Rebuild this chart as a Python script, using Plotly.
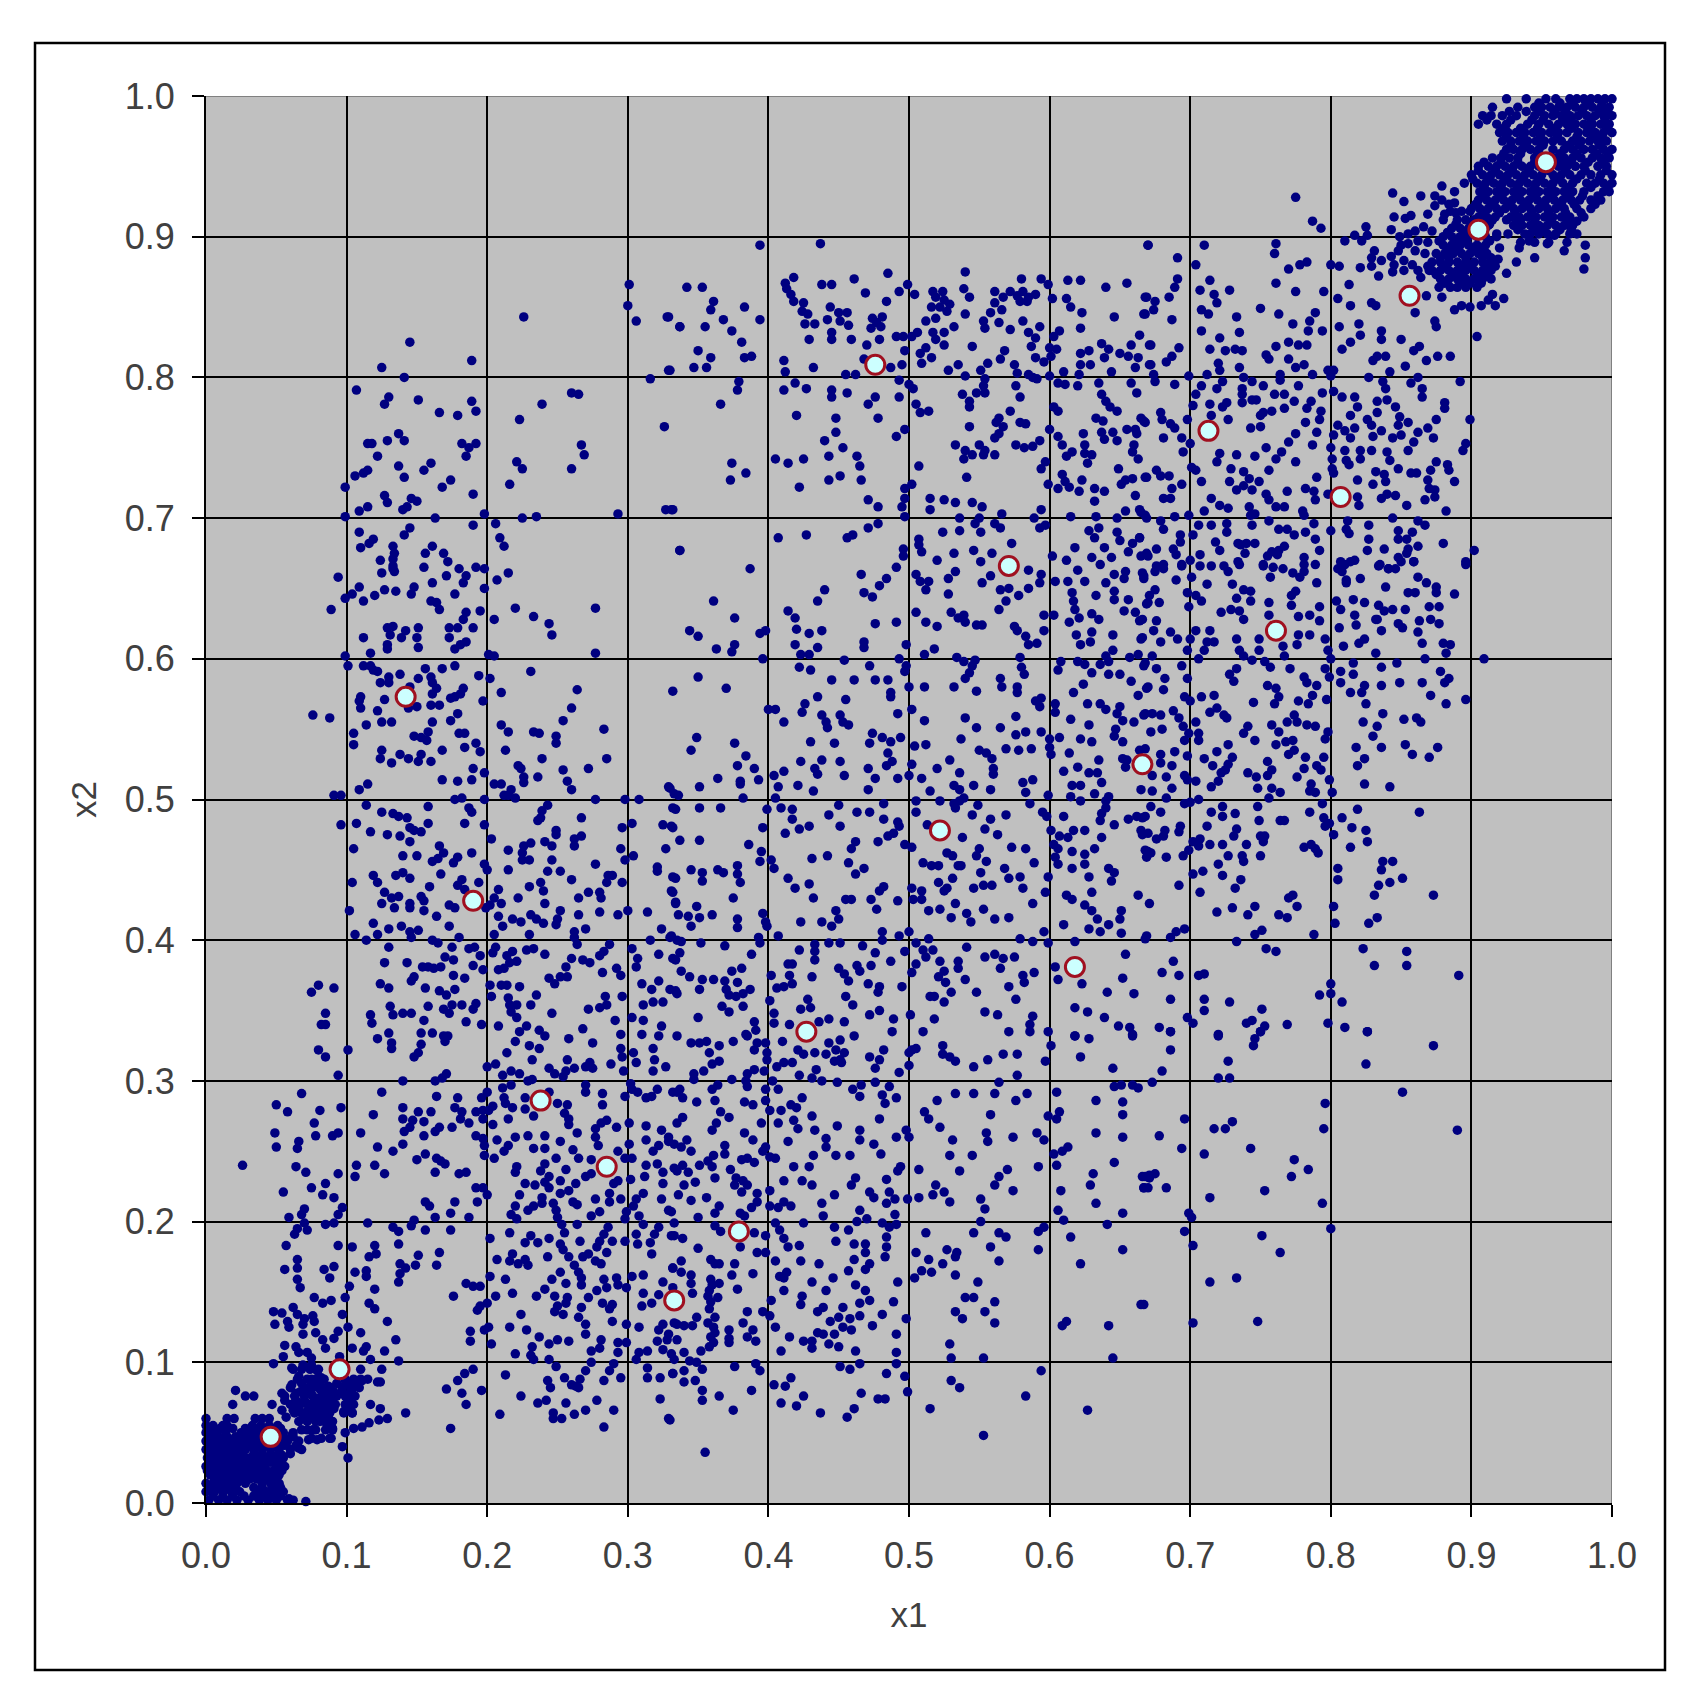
import plotly.graph_objects as go

upper_left = [(301,866),(300,851),(306,840),(329,843),(337,836),(226,843),(145,825),(189,812),(125,807),(141,800),(330,805),(316,799),(107,791),(130,786),(127,781),(151,784),(189,783),(192,776),(166,775),(179,773),(239,781),(260,789),(265,788),(223,770),(326,765),(137,760),(141,755),(129,755),(115,753),(118,753),(182,753),(192,753),(187,750),(185,744),(122,744),(267,752),(269,745),(221,740),(225,735),(260,735),(137,737),(160,739),(155,734),(115,734),(112,732),(106,730),(141,729),(174,727),(168,722),(216,724),(99,722),(190,717),(127,716),(129,711),(146,714),(150,712),(143,708),(140,706),(115,708),(109,705),(99,701),(163,700),(198,703),(225,700),(235,701),(293,703),(327,706),(332,706),(206,696),(190,695),(145,693),(141,688),(109,690),(119,685),(116,682),(110,679),(209,686),(212,680),(133,680),(134,675),(133,671),(161,680),(156,675),(169,675),(172,669),(124,670),(155,665),(133,664),(180,664),(192,665),(198,664),(215,661),(337,677)]

middle_left = [(94,658),(125,661),(133,666),(134,662),(171,659),(185,659),(183,654),(207,656),(109,651),(104,646),(99,643),(127,649),(135,648),(148,651),(146,646),(161,654),(120,645),(112,641),(177,646),(198,650),(160,641),(164,640),(166,635),(89,635),(220,636),(277,636),(195,634),(185,633),(183,628),(205,628),(233,630),(244,625),(246,617),(190,622),(173,622),(179,622),(173,615),(151,622),(150,615),(151,608),(129,622),(133,623),(131,617),(139,615),(142,620),(112,615),(129,610),(129,607),(185,612),(181,610),(177,607),(117,604),(99,602),(101,595),(201,603),(205,602),(277,604),(112,595),(117,595),(119,592),(122,591),(138,589),(130,587),(124,583),(130,583),(156,593),(168,593),(177,595),(151,586),(160,587),(194,588),(202,586),(231,591),(161,583),(164,579),(161,575),(145,580),(183,579),(181,575),(174,572),(177,573),(210,576),(264,578),(110,573),(109,570),(127,571),(110,565),(150,566),(144,565),(160,567),(166,567),(197,570),(122,563),(179,561),(174,556),(260,565),(76,560),(88,558),(254,556),(125,555),(132,555),(114,553),(161,555),(210,553),(215,548),(283,550),(233,548),(237,547),(249,545),(249,540),(105,547),(105,539),(148,545),(153,544),(157,542),(158,548),(184,547),(180,547),(192,540),(184,537),(195,534),(213,535),(168,535),(125,535),(124,529),(132,526),(138,532),(144,529),(153,532),(151,527),(160,527),(239,529),(285,529),(272,522),(254,521),(222,524),(224,522),(190,522),(198,519),(168,514),(179,513),(189,514),(226,516),(226,512),(236,516),(205,511),(210,511),(257,513),(260,507),(115,511),(109,507),(330,508),(91,503),(96,503),(217,507),(212,503),(215,503),(220,501),(177,500),(182,501),(198,500),(277,500),(298,500),(308,500),(336,503),(243,496),(239,492),(238,487),(236,485),(114,496),(158,495),(187,494),(189,491),(334,493),(125,491),(133,490),(137,488),(143,487),(267,487),(107,483),(96,482),(158,483),(184,483),(198,482),(145,480),(148,478),(153,477),(303,483),(296,480),(325,482),(332,480),(117,477),(129,475),(138,474),(145,470),(203,472),(249,478),(249,475),(267,474),(262,472),(262,467),(241,470),(246,467),(231,469),(226,467),(225,462),(230,457),(225,457),(105,465),(215,464),(166,467),(169,462),(295,465),(327,465),(140,460),(150,460),(189,462),(179,459),(176,455),(161,456),(165,458),(304,460),(298,457),(246,457),(198,454),(200,450),(215,450),(277,454),(321,452),(321,449),(243,449),(252,449),(167,447),(119,446),(122,441),(135,446),(140,448),(145,444),(286,446),(289,446),(285,441),(334,444),(260,443),(182,443),(179,439),(184,436),(194,441),(104,441),(238,441),(230,438),(240,435),(296,441),(159,438),(208,436),(127,434),(132,430),(137,431),(125,426),(153,431),(155,428),(222,430),(272,434),(280,434),(265,430),(281,430),(332,434),(145,426),(145,423),(205,430),(202,425),(210,426),(199,423),(173,425),(177,423),(241,426),(334,426),(102,421),(134,423),(155,421),(252,421),(300,421),(314,420),(265,418),(280,420),(293,418),(231,418),(235,415),(240,412),(164,417),(208,417),(218,415),(224,413),(250,415),(249,411),(119,412),(173,410),(211,410),(139,410),(130,408),(145,406),(151,407),(270,408),(324,408),(106,404),(122,404),(114,400),(146,402),(262,406),(262,402),(264,397),(205,404),(230,404),(161,400),(165,398),(180,402),(316,400),(330,402),(335,400),(287,397),(130,395),(175,395),(187,394),(191,395),(206,395),(204,391),(303,394),(322,390),(241,390),(233,394),(228,393),(218,392),(214,389),(280,389),(283,392),(170,388),(176,386),(195,389),(260,387),(256,381),(307,387),(306,381),(334,386),(127,384),(143,384),(221,385),(216,384),(212,380),(208,379),(268,386),(273,384),(154,381),(158,381),(162,380),(167,381),(190,382),(197,379),(292,380),(295,375),(282,377),(176,375),(184,373),(148,374),(146,371),(244,373),(248,369),(252,374),(257,374),(124,369),(130,366),(156,366),(210,368),(214,368),(223,367),(310,369),(322,371),(202,368),(203,360),(80,368),(75,363),(91,366),(166,364),(171,361),(177,365),(235,361),(296,360),(334,364),(317,365),(215,359),(216,354),(217,349),(221,345),(284,360),(285,354),(280,352),(221,354),(231,354),(311,354),(318,356),(325,356),(131,353),(158,353),(175,354),(182,354),(192,355),(190,351),(169,351),(173,348),(272,351),(133,347),(140,348),(146,348),(85,348),(85,340),(82,340),(117,347),(118,341),(246,348),(303,345),(155,343),(291,343),(311,343),(185,342),(196,340),(208,339),(228,339),(223,335),(268,337),(324,339),(237,336),(241,332),(295,333),(310,333),(322,332),(130,334),(122,330),(153,334),(161,334),(169,332),(172,332)]

lower_left = [(80,322),(85,317),(101,322),(132,327),(132,323),(153,326),(151,320),(148,317),(170,328),(237,323),(220,328),(230,325),(214,320),(232,315),(258,330),(275,327),(295,323),(304,320),(296,317),(306,313),(318,323),(319,315),(318,307),(327,310),(257,315),(256,307),(262,309),(244,309),(248,305),(254,303),(273,313),(270,310),(275,309),(288,312),(297,307),(206,312),(200,310),(217,307),(223,305),(211,304),(94,304),(171,305),(168,302),(163,300),(140,300),(232,301),(229,300),(217,297),(211,295),(200,292),(270,297),(270,292),(302,298),(298,289),(303,294),(307,292),(313,288),(317,289),(321,294),(335,292),(125,292),(244,292),(282,291),(282,283),(68,291),(164,289),(179,288),(196,288),(212,288),(213,284),(204,282),(218,281),(201,279),(227,288),(227,280),(233,275),(250,284),(257,283),(255,277),(258,273),(258,269),(264,263),(177,281),(182,278),(192,278),(197,279),(181,273),(187,270),(50,283),(58,278),(81,279),(96,281),(140,281),(140,273),(151,278),(160,278),(119,276),(147,272),(155,271),(197,273),(204,269),(215,273),(77,270),(49,263),(78,261),(90,261),(94,263),(110,263),(145,267),(141,264),(155,261),(166,267),(163,264),(175,267),(277,266),(277,260),(281,270),(285,272),(292,267),(301,270),(313,268),(324,265),(329,260),(333,255),(192,261),(197,259),(229,261),(241,261),(220,260),(215,254),(207,258),(252,257),(279,254),(301,255),(313,258),(66,257),(65,252),(50,253),(122,253),(140,255),(133,250),(198,254),(198,247),(205,245),(212,250),(233,252),(241,252),(261,251),(265,245),(318,250),(322,254),(156,248),(249,245),(241,241),(238,236),(293,250),(298,245),(303,245),(274,244),(26,240),(150,244),(164,245),(167,243),(170,241),(107,240),(120,240),(64,239),(71,235),(221,239),(220,235),(256,237),(313,240),(325,235),(335,236),(321,241),(94,234),(106,232),(127,234),(163,235),(185,235),(180,234),(270,232),(274,234),(302,230),(312,232),(244,232),(241,228),(252,229),(290,227),(293,229),(85,227),(75,224),(83,219),(91,217),(227,227),(234,226),(244,224),(263,227),(258,222),(252,220),(325,227),(192,224),(197,224),(200,219),(55,221),(223,219),(239,217),(311,220),(306,216),(287,220),(287,214),(295,216),(277,216),(324,216),(193,214),(156,214),(159,211),(177,214),(261,214),(264,212),(220,211),(233,211),(239,213),(229,208),(247,213),(249,208),(250,203),(253,198),(70,209),(68,205),(97,210),(94,205),(280,207),(274,204),(331,207),(304,211),(299,207),(298,202),(308,204),(311,198),(174,206),(217,205),(221,202),(59,203),(163,203),(187,203),(148,201),(146,197),(115,199),(91,199),(85,198),(70,199),(65,195),(72,194),(63,191),(133,196),(137,193),(156,194),(174,194),(255,192),(264,198),(286,196),(283,191),(280,186),(289,186),(278,182),(298,186),(306,191),(307,184),(319,191),(322,196),(316,185),(317,177),(333,190),(216,192),(231,190),(227,185),(236,185),(244,188),(202,188),(266,186),(252,184),(254,180),(57,183),(94,183),(104,182),(120,183),(137,184),(121,177),(116,175),(166,178),(151,176),(272,177),(268,175),(277,172),(285,178),(281,170),(218,177),(207,173),(216,172),(227,173),(222,170),(229,169),(243,175),(258,175),(65,173),(56,166),(65,167),(138,170),(149,169),(142,167),(164,169),(84,166),(91,168),(88,160),(114,165),(114,161),(106,164),(262,169),(265,164),(267,160),(267,155),(332,167),(138,163),(137,157),(202,161),(213,159),(252,164),(246,159),(256,156),(283,159),(292,160),(303,161),(311,162),(293,155),(299,153),(285,153),(325,157),(332,153),(65,159),(67,153),(185,156),(190,154),(195,154),(102,154),(120,152),(241,152),(235,147),(248,147),(278,151),(272,146),(218,149),(311,149),(322,148),(176,147),(206,147),(200,142),(195,140),(193,137),(77,146),(83,142),(89,144),(99,146),(257,146),(256,142),(250,140),(248,136),(254,134),(282,142),(289,141),(287,138),(317,142),(310,140),(116,142),(120,138),(267,139),(265,132),(270,127),(270,120),(97,134),(48,136),(54,135),(62,139),(65,134),(70,131),(76,133),(58,129),(69,127),(77,129),(224,134),(129,129),(49,127),(59,125),(101,125),(94,122),(91,117),(198,123),(201,125),(188,122),(188,115),(203,113),(216,125),(228,123),(289,129),(299,127),(308,125),(325,127),(322,123),(335,127),(329,120),(110,121),(69,120),(78,121),(83,116),(85,110),(237,118),(250,116),(244,113),(258,115),(232,111),(135,116),(281,116),(280,110),(274,108),(293,114),(299,114),(321,115),(325,109),(56,112),(55,104),(64,111),(66,107),(72,107),(75,103),(114,111),(112,108),(104,110),(127,108),(220,106),(231,105),(233,102),(244,102),(249,97),(293,107),(290,99),(287,94),(283,87),(295,89),(308,107),(306,102),(314,108),(95,104),(117,102),(137,101),(48,99),(274,100),(270,94),(266,88),(263,83),(260,84),(255,89),(61,96),(69,98),(75,98),(79,94),(66,90),(75,88),(82,89),(110,95),(125,95),(190,95),(184,92),(179,87),(213,91),(314,96),(314,89),(323,89),(332,92),(122,86),(124,86),(99,87),(105,85),(111,87),(97,82),(104,81),(108,83),(99,76),(105,76),(243,87),(245,82),(265,82),(61,84),(21,80),(28,76),(34,76),(19,70),(54,78),(64,78),(71,81),(81,81),(87,83),(75,77),(83,77),(90,79),(56,73),(64,72),(71,71),(80,69),(88,70),(85,65),(78,64),(62,66),(54,66),(68,64),(57,61),(171,81),(182,78),(196,80),(185,70),(224,76),(236,71),(242,73),(256,71),(270,66),(278,73),(290,66),(323,74),(47,70),(117,70),(124,67),(142,64),(209,63),(247,64),(247,60),(253,60),(262,63),(330,59),(283,54),(174,53),(98,65),(104,64),(129,60),(123,59),(116,57),(111,54),(105,53),(99,50),(87,57),(90,53),(81,58),(76,52),(73,45),(79,45),(89,46),(68,52),(61,48),(66,39),(60,35),(54,34),(97,40),(101,32),(59,3),(71,1)]

upper_mid = [(394,894),(437,895),(540,875),(485,874),(461,870),(418,871),(412,867),(580,870),(594,870),(599,866),(613,869),(622,869),(655,867),(640,864),(670,894),(342,864),(353,864),(438,866),(445,866),(539,863),(499,866),(493,861),(504,859),(469,860),(413,863),(416,859),(418,854),(517,861),(524,861),(519,857),(525,855),(529,852),(522,850),(516,850),(519,842),(527,847),(543,857),(561,861),(567,857),(572,861),(577,858),(581,861),(585,857),(590,859),(579,854),(584,854),(561,853),(566,848),(558,846),(602,856),(612,856),(615,850),(623,846),(669,857),(668,845),(361,854),(359,848),(383,850),(328,843),(368,841),(394,841),(337,836),(355,836),(484,854),(425,853),(424,847),(428,845),(444,850),(450,846),(456,846),(442,841),(451,840),(457,837),(540,845),(646,843),(474,842),(481,843),(477,839),(473,835),(480,836),(426,838),(433,838),(512,840),(553,840),(554,835),(564,839),(581,840),(572,834),(593,836),(622,835),(532,836),(525,832),(585,832),(445,832),(445,827),(429,827),(459,827),(479,827),(470,823),(374,833),(381,825),(491,829),(496,829),(502,829),(506,832),(603,829),(607,833),(664,830),(517,832),(519,827),(525,823),(512,821),(497,819),(590,828),(587,822),(600,821),(605,820),(545,822),(658,823),(672,823),(637,824),(642,820),(350,819),(359,814),(383,814),(388,815),(411,812),(508,817),(516,814),(509,810),(568,819),(565,813),(590,814),(601,815),(622,817),(628,819),(650,817),(656,815),(663,814),(639,814),(329,805),(347,807),(356,807),(432,807),(412,804),(468,813),(487,807),(495,809),(535,809),(528,805),(556,810),(551,805),(575,809),(577,803),(596,811),(622,809),(629,809),(661,807),(672,809),(610,804),(455,802),(462,802),(540,801),(554,799),(588,800),(585,802),(591,799),(600,801),(621,802),(644,804),(379,797),(493,798),(419,796),(427,792),(411,791),(378,791),(445,791),(445,786),(456,789),(500,795),(503,792),(553,794),(554,789),(548,789),(576,794),(606,796),(611,795),(620,794),(635,796),(658,796),(662,789),(538,788),(579,786),(543,783),(543,779),(476,786),(493,786),(471,781),(366,781),(637,788),(640,783),(643,779),(648,776),(505,781),(508,775),(514,776),(603,779),(606,776),(420,773),(448,771),(478,771),(572,776),(564,771),(562,768),(579,768),(583,767),(633,771),(638,769),(665,771),(668,768),(543,765),(567,765),(564,760),(561,757),(600,763),(606,758),(624,760),(637,761),(645,761),(655,763),(661,763),(662,760),(639,756),(648,755),(448,761),(497,763),(491,758),(440,755),(453,750),(533,752),(576,752),(593,755),(550,752),(582,750),(588,751),(540,748),(554,748),(553,745),(561,745),(545,745),(609,752),(625,752),(660,752),(659,747),(625,746),(630,745),(616,747),(612,744),(463,744),(443,744),(465,737),(405,742),(425,742),(414,739),(374,739),(539,742),(597,740),(594,735),(627,739),(663,742),(507,737),(384,732),(373,727),(451,730),(443,727),(466,727),(422,722),(541,729),(609,731),(649,735),(654,727),(659,728),(651,724),(669,729),(623,727),(611,726),(599,724),(606,721),(614,722),(621,719),(632,721),(639,719),(502,724),(497,721),(497,714),(495,708),(497,701),(661,716),(515,714),(525,713),(533,711),(545,711),(552,708),(471,713),(478,708),(515,706),(594,706),(632,712),(331,706),(566,703),(615,701),(633,701),(648,700),(654,705),(664,706),(668,702),(536,700),(550,700),(589,700),(471,693),(478,696),(547,696),(551,690),(561,696),(565,693),(593,693),(597,695),(536,691),(524,690),(628,691),(635,693),(632,686),(407,686),(427,688),(460,688),(456,686),(648,690),(650,684),(664,686),(659,682),(656,676),(507,685),(507,681),(509,676),(496,678),(496,673),(337,677),(573,682),(618,679),(639,679),(532,675),(546,677),(559,675),(602,673),(612,670),(630,672),(644,672),(665,673),(670,673),(520,670),(551,669),(491,665),(387,664),(636,667),(620,663)]

center = [(466,660),(484,657),(479,652),(440,649),(468,647),(474,644),(435,641),(505,660),(508,655),(514,655),(512,649),(533,662),(528,657),(558,659),(552,654),(528,646),(594,660),(593,654),(585,663),(585,650),(604,655),(613,655),(625,655),(640,654),(646,660),(654,662),(653,657),(666,661),(667,657),(565,649),(571,650),(578,645),(569,641),(564,635),(616,647),(633,645),(646,648),(646,642),(656,642),(670,640),(617,641),(618,635),(621,629),(361,641),(376,629),(414,634),(419,629),(530,633),(505,633),(512,626),(535,629),(539,631),(540,626),(548,624),(552,624),(520,623),(653,634),(661,633),(666,628),(630,632),(635,628),(596,631),(603,631),(614,626),(619,617),(622,610),(476,625),(491,626),(575,623),(577,620),(344,620),(350,616),(394,618),(398,620),(420,621),(429,618),(438,620),(596,620),(630,619),(645,617),(666,615),(629,612),(583,616),(585,610),(591,611),(468,612),(468,608),(498,610),(419,610),(435,608),(376,610),(363,607),(374,605),(518,607),(511,603),(429,603),(423,603),(396,600),(645,606),(663,603),(640,602),(657,601),(534,601),(539,598),(547,599),(545,595),(543,590),(540,586),(454,599),(493,600),(498,595),(497,591),(579,601),(580,594),(582,589),(620,598),(625,596),(636,596),(642,598),(668,597),(608,598),(606,592),(422,594),(430,592),(472,595),(350,587),(445,585),(461,585),(476,585),(485,585),(630,590),(642,589),(650,589),(658,584),(565,586),(566,580),(577,580),(577,576),(500,580),(511,580),(532,580),(548,577),(370,579),(332,577),(624,582),(617,576),(670,580),(487,576),(487,573),(435,573),(455,571),(663,574),(590,570),(594,572),(593,566),(604,568),(604,562),(426,568),(424,562),(400,564),(405,564),(627,568),(636,568),(640,564),(650,566),(648,561),(668,561),(502,564),(492,561),(438,560),(451,560),(576,559),(540,558),(453,555),(457,553),(615,557),(652,556),(660,555),(511,556),(441,555),(442,551),(411,555),(548,551),(565,551),(628,553),(647,550),(646,545),(576,546),(583,548),(594,548),(600,543),(607,544),(600,537),(474,547),(481,544),(494,544),(487,541),(430,541),(447,540),(472,540),(349,544),(376,540),(345,535),(384,531),(504,538),(512,539),(537,543),(622,543),(630,541),(652,541),(569,536),(578,535),(587,536),(614,533),(550,535),(555,533),(559,529),(560,522),(560,518),(485,533),(668,536),(529,528),(438,528),(423,527),(451,527),(635,528),(652,529),(655,528),(654,523),(601,532),(488,527),(484,524),(502,525),(378,524),(390,522),(520,522),(471,522),(433,522),(620,523),(610,520),(435,518),(411,520),(628,519),(634,519),(476,515),(454,517),(492,515),(500,517),(509,515),(536,519),(404,517),(364,515),(393,514),(380,513),(380,511),(532,510),(546,510),(588,514),(581,512),(421,510),(351,509),(407,509),(637,512),(616,510),(622,510),(583,505),(558,507),(536,507),(471,507),(432,506),(515,506),(665,507),(329,509),(333,504),(382,501),(405,501),(539,501),(599,503),(615,502),(632,504),(642,502),(505,499),(522,499),(536,499),(532,497),(533,494),(622,499),(640,499),(332,494),(351,494),(366,494),(399,493),(409,494),(417,493),(450,496),(482,497),(549,496),(586,497),(640,494),(637,490),(636,485),(505,491),(545,489),(595,491),(598,488),(569,489),(443,489),(463,491),(472,491),(417,486),(482,486),(610,488),(558,486),(656,486),(662,488),(668,488),(492,484),(493,481),(646,482),(554,479),(513,482),(331,481),(396,480),(422,479),(429,481),(451,481),(412,476),(489,476),(485,474),(601,478),(617,478),(625,478),(665,478),(670,476),(563,475),(337,471),(351,471),(478,470),(538,473),(637,473),(462,470),(459,465),(607,474),(613,473),(603,468),(606,465),(604,459),(386,468),(497,468),(502,466),(573,466),(583,465),(550,465),(548,460),(395,463),(394,456),(402,457),(404,451),(616,463),(632,465),(670,463),(625,461),(625,454),(442,460),(431,458),(527,462),(531,460),(555,456),(589,455),(568,451),(510,455),(516,453),(521,453),(535,453),(537,453),(457,455),(468,451),(462,447),(606,454),(616,451),(345,450),(353,448),(353,442),(364,450),(368,448),(378,453),(378,447),(380,441),(642,451),(646,448),(644,442),(551,448),(628,445),(332,445),(414,444),(429,440),(419,437),(599,445),(571,444),(579,445),(531,444),(521,441),(527,437),(525,435),(546,437),(553,439),(559,439),(581,437),(482,438),(479,435),(331,435),(502,437),(509,435),(630,434),(597,434),(663,432),(375,430),(432,430),(334,427),(455,429),(459,429),(473,429),(492,428),(503,429),(509,429),(612,432),(616,429),(588,426),(533,426),(522,422),(514,421),(553,422),(349,424),(477,422),(625,425),(630,421),(336,418),(343,417),(351,416),(360,418),(345,410),(378,415),(378,409),(396,419),(398,413),(399,410),(448,421),(450,415),(438,413),(445,410),(423,413),(541,419),(544,413),(530,416),(561,415),(571,416),(651,421),(650,415),(634,415),(642,411),(610,411),(331,403),(338,399),(352,398),(369,396),(393,402),(394,398),(407,403),(481,406),(481,400),(500,406),(493,403),(514,401),(596,406),(628,408),(636,406),(651,405),(669,403),(579,401),(588,399),(599,398),(618,399),(443,398),(451,398),(433,397),(422,393),(433,392),(433,386),(467,396),(476,391),(505,398),(510,393),(517,393),(541,395),(497,392),(512,388),(554,388),(561,390),(567,387),(575,388),(654,390),(337,391),(332,387),(388,390),(522,385),(535,385),(535,380),(473,382),(487,385),(505,383),(450,380),(463,382),(465,378),(454,376),(414,383),(417,383),(565,380),(604,381),(525,378),(589,377),(338,378),(374,378),(381,380),(502,377),(457,371),(344,374),(353,372),(361,372),(369,371),(378,370),(402,375),(415,375),(431,374),(521,374),(526,370),(540,372),(581,375),(606,372),(652,373),(582,370),(417,369),(411,367),(406,366),(471,369),(479,367),(495,367),(571,367),(623,369),(370,365),(387,365),(382,362),(377,360),(372,361),(351,365),(330,365),(335,362),(530,363),(548,363),(660,362),(641,363),(478,363),(455,360),(515,360),(518,360),(401,357),(428,358),(576,358),(460,354),(525,356),(382,353),(367,353),(423,351),(430,352),(618,352),(372,349),(479,350),(554,349),(563,347),(627,349),(350,345),(404,348),(472,347),(501,347),(588,346),(639,345),(390,342),(518,344),(454,342),(404,341),(489,344),(443,344),(586,340),(649,339),(657,338),(415,340),(436,342),(391,336),(385,332),(488,335),(571,335),(586,335),(599,335),(510,335),(618,332),(659,332)]

lower_mid = [(335,332),(345,327),(351,327),(356,328),(365,325),(375,328),(358,320),(392,327),(398,327),(390,322),(399,320),(399,315),(384,333),(410,328),(421,322),(425,319),(433,320),(441,319),(443,327),(451,329),(461,332),(448,322),(454,320),(451,315),(447,314),(452,313),(472,317),(482,322),(479,315),(476,309),(502,322),(500,320),(505,323),(500,311),(493,306),(524,325),(524,319),(529,317),(533,314),(546,310),(556,315),(567,319),(577,319),(601,325),(597,314),(622,317),(618,332),(628,330),(659,333),(411,313),(417,313),(406,310),(365,314),(360,312),(354,307),(347,305),(347,301),(385,305),(390,308),(397,307),(384,300),(374,301),(422,304),(434,308),(431,302),(438,300),(449,299),(476,299),(466,297),(460,294),(577,304),(564,299),(645,309),(337,294),(332,292),(339,288),(360,294),(364,297),(385,296),(398,294),(403,300),(407,294),(486,296),(481,290),(483,284),(491,288),(465,289),(533,291),(546,291),(561,291),(584,291),(605,292),(646,296),(651,297),(659,297),(663,295),(349,285),(362,286),(383,285),(389,283),(398,286),(520,286),(576,286),(633,286),(652,285),(424,288),(420,281),(416,283),(366,278),(339,274),(335,270),(372,274),(401,279),(409,279),(511,278),(514,273),(558,276),(607,278),(605,273),(599,275),(652,276),(395,270),(407,270),(418,272),(421,266),(431,275),(479,273),(449,268),(363,270),(360,265),(522,267),(465,265),(433,265),(498,265),(500,260),(491,260),(633,263),(383,263),(389,258),(555,263),(591,263),(596,258),(465,258),(574,260),(652,260),(342,258),(338,253),(329,257),(531,258),(556,257),(414,257),(475,255),(441,259),(441,253),(369,254),(369,248),(345,250),(398,253),(396,250),(613,253),(609,250),(480,248),(603,248),(529,247),(545,247),(432,247),(448,247),(458,247),(401,246),(405,245),(361,247),(385,245),(390,242),(381,244),(357,243),(351,240),(339,240),(360,239),(333,238),(343,235),(418,239),(429,239),(592,239),(605,240),(646,242),(507,237),(570,237),(494,239),(492,236),(373,237),(536,236),(631,234),(484,230),(411,229),(424,229),(431,226),(362,231),(462,231),(459,226),(377,231),(382,229),(385,226),(376,226),(381,221),(348,228),(340,226),(336,219),(345,215),(356,217),(519,226),(564,232),(561,226),(629,226),(666,232),(667,224),(671,231),(670,224),(392,220),(401,222),(392,214),(388,210),(383,204),(472,221),(475,217),(486,221),(490,216),(484,213),(447,219),(499,216),(507,217),(517,219),(525,221),(529,214),(574,222),(608,222),(438,213),(551,216),(633,213),(365,211),(401,211),(411,214),(416,211),(407,210),(329,208),(362,206),(380,206),(350,203),(439,204),(465,208),(470,202),(463,200),(490,205),(554,209),(551,200),(606,208),(610,201),(652,206),(333,199),(362,197),(366,193),(405,199),(408,194),(411,188),(414,182),(425,199),(447,196),(457,194),(481,199),(486,196),(491,198),(641,198),(596,196),(592,193),(331,190),(339,188),(398,190),(390,192),(512,192),(546,192),(564,192),(569,189),(615,189),(448,186),(461,184),(469,184),(484,189),(422,183),(380,182),(484,182),(350,181),(527,180),(534,178),(558,182),(592,180),(652,180),(392,178),(398,178),(469,178),(483,175),(505,178),(533,175),(338,172),(359,173),(362,170),(405,172),(423,172),(436,170),(461,173),(514,173),(524,170),(564,172),(622,170),(365,170),(376,170),(472,170),(469,166),(457,165),(332,167),(338,164),(389,163),(509,165),(516,164),(504,160),(345,162),(345,156),(359,159),(374,162),(408,161),(413,164),(411,160),(533,162),(360,155),(365,156),(358,151),(357,147),(378,152),(346,149),(431,157),(446,160),(462,155),(492,157),(549,157),(441,151),(411,151),(469,151),(364,146),(359,143),(424,147),(423,141),(402,144),(540,146),(546,146),(465,142),(472,144),(489,143),(561,143),(358,138),(385,136),(396,136),(401,133),(665,141),(435,136),(439,139),(453,139),(481,134),(533,136),(554,136),(349,132),(362,132),(346,126),(333,128),(340,126),(382,128),(357,128),(361,125),(498,131),(538,131),(444,129),(450,132),(458,131),(465,133),(474,126),(561,128),(612,129),(609,126),(642,126),(405,125),(389,123),(372,123),(362,121),(453,125),(459,123),(491,120),(435,121),(439,120),(447,120),(359,118),(372,117),(385,118),(415,118),(328,116),(335,116),(425,115),(431,115),(391,115),(361,114),(372,114),(443,113),(450,111),(358,111),(352,108),(529,113),(431,110),(409,108),(462,108),(491,107),(331,106),(340,107),(333,102),(344,101),(349,100),(530,103),(553,103),(645,103),(376,97),(391,99),(451,97),(458,95),(465,99),(491,99),(394,94),(353,95),(340,94),(332,92),(594,94),(484,92),(497,90),(348,87),(340,86),(416,89),(530,87),(404,84),(412,83),(536,82),(353,80),(388,80),(499,79),(466,78),(425,76),(365,76),(478,74),(483,74),(583,76),(353,73),(409,71),(420,69),(375,66),(461,67),(515,67),(437,64),(456,61),(627,66),(329,60),(553,48),(355,36)]

lower_right = [(686,335),(720,333),(750,335),(746,330),(745,325),(826,335),(873,325),(686,322),(727,314),(680,307),(825,312),(720,302),(728,302),(673,299),(851,292),(796,284),(696,273),(730,271),(717,266),(725,266),(795,266),(890,265),(678,261),(694,252),(743,252),(710,248),(774,244),(784,237),(772,232),(668,232),(671,233),(675,234),(667,224),(683,224),(714,217),(753,222),(794,213),(699,206),(701,203),(696,193),(800,195),(751,190),(702,183),(764,178),(733,160),(714,157),(667,141),(702,128),(748,129)]

middle_right = [(694,667),(707,666),(715,666),(724,666),(727,662),(734,669),(752,667),(759,665),(766,664),(773,661),(781,662),(778,658),(757,658),(810,667),(808,662),(817,670),(811,656),(821,657),(811,654),(835,667),(841,664),(846,664),(850,669),(859,669),(896,669),(667,659),(675,662),(681,664),(690,656),(701,658),(712,653),(790,654),(839,651),(862,658),(730,653),(738,649),(743,648),(775,648),(772,645),(860,647),(855,647),(868,654),(875,651),(875,647),(888,646),(675,649),(671,645),(669,639),(678,640),(698,647),(704,645),(708,641),(699,637),(733,643),(743,641),(756,640),(816,642),(804,641),(722,633),(729,635),(735,634),(738,628),(756,631),(772,638),(792,637),(785,631),(777,630),(807,635),(817,631),(824,640),(834,638),(844,635),(838,634),(853,635),(870,637),(877,637),(676,627),(664,627),(792,627),(833,628),(832,628),(863,627),(871,628),(877,625),(848,625),(818,624),(806,622),(851,622),(836,620),(862,619),(674,620),(686,619),(704,620),(714,620),(777,617),(785,617),(733,614),(749,614),(796,614),(691,614),(700,614),(665,614),(679,612),(717,612),(712,612),(824,614),(820,611),(865,611),(880,611),(885,610),(766,609),(776,610),(809,609),(735,606),(749,606),(798,606),(710,606),(698,606),(832,604),(882,604),(673,602),(706,600),(738,602),(744,599),(753,598),(757,594),(767,602),(800,600),(867,600),(909,600),(816,597),(847,597),(667,595),(676,593),(694,595),(836,594),(733,593),(771,593),(796,593),(728,589),(807,591),(816,589),(878,591),(799,587),(781,587),(731,584),(698,586),(682,586),(884,586),(783,583),(881,583),(807,583),(849,583),(865,583),(836,581),(824,581),(790,581),(755,581),(761,579),(669,579),(681,578),(717,574),(708,573),(696,573),(763,573),(787,574),(822,576),(814,576),(871,574),(700,570),(745,569),(760,568),(777,570),(784,568),(797,571),(825,568),(882,568),(896,571),(688,563),(719,565),(714,562),(724,560),(726,558),(667,560),(673,561),(679,560),(692,558),(837,561),(774,560),(769,555),(776,555),(783,553),(789,552),(823,555),(861,558),(852,557),(864,555),(704,555),(695,552),(758,553),(741,552),(833,552),(680,550),(672,548),(763,548),(738,547),(699,547),(706,547),(798,548),(830,545),(746,542),(706,542),(696,542),(796,543),(768,541),(773,542),(727,539),(761,539),(818,537),(836,537),(853,539),(876,537),(664,535),(689,534),(719,534),(679,532),(774,535),(770,532),(698,531),(710,529),(730,530),(782,530),(795,530),(858,532),(870,530),(755,527),(824,529),(716,524),(727,525),(687,524),(679,526),(790,524),(819,524),(758,521),(781,522),(725,521),(722,519),(673,517),(696,517),(741,519),(747,516),(755,517),(793,521),(683,516),(704,513),(698,514),(776,516),(720,513),(799,514),(715,509),(824,511),(842,509),(786,511),(748,508),(758,508),(687,508),(673,506),(764,505),(785,506),(789,505),(801,505),(683,501),(756,501),(706,500),(696,497),(700,498),(672,495),(679,491),(715,491),(723,495),(723,488),(732,490),(748,495),(785,491),(794,497),(819,493),(863,491),(666,487),(749,485),(764,485),(767,485),(795,487),(799,483),(808,487),(796,481),(712,481),(815,480),(825,478),(733,479),(731,474),(693,481),(692,477),(682,478),(666,475),(750,474),(753,474),(802,475),(676,472),(681,474),(752,470),(702,470),(707,472),(706,467),(714,468),(723,468),(740,468),(826,470),(786,468),(781,466),(789,465),(791,462),(814,466),(668,464),(672,462),(669,459),(683,459),(695,460),(699,464),(727,460),(737,460),(750,460),(738,456),(837,456),(844,456),(720,454),(805,451),(836,450),(702,447),(709,449),(723,446),(805,443),(736,443),(851,444),(842,441),(834,439),(732,437),(692,439),(707,434),(831,432),(873,432),(773,432),(770,430),(671,426),(776,424),(802,424),(746,424),(730,423),(719,420),(741,418),(763,418),(769,416),(833,416),(827,412),(803,412),(751,407),(746,404),(696,408),(690,406),(788,404),(686,402),(668,401),(733,399),(754,394),(761,392),(823,394),(854,392),(688,385),(831,382),(854,382),(680,377),(692,375),(706,375),(710,376),(891,375),(800,369),(792,361),(800,362),(808,356),(686,358),(710,358),(728,356),(710,350),(751,351),(698,345),(702,341),(740,341),(744,343),(769,340),(798,341),(753,339),(750,335),(810,338),(678,338),(686,335),(826,335),(720,332)]

upper_right = [(775,928),(787,911),(793,906),(761,895),(760,888),(670,894),(710,894),(691,885),(704,880),(770,877),(778,880),(783,882),(800,880),(806,879),(691,870),(714,869),(761,867),(813,866),(689,864),(707,862),(728,862),(775,861),(795,861),(717,859),(668,857),(685,857),(719,853),(805,856),(675,854),(674,848),(814,851),(829,853),(832,851),(750,849),(708,848),(713,845),(667,845),(789,846),(687,841),(763,845),(733,843),(785,840),(773,838),(806,836),(820,838),(708,833),(735,832),(784,833),(794,833),(821,830),(836,833),(836,827),(904,829),(721,828),(770,825),(777,823),(783,823),(814,825),(850,827),(808,820),(761,822),(671,823),(692,821),(687,815),(683,811),(714,820),(725,819),(732,820),(737,819),(863,822),(859,819),(754,816),(756,813),(885,815),(876,815),(839,815),(833,815),(830,812),(868,812),(853,808),(720,810),(721,805),(735,807),(770,813),(775,807),(781,809),(671,809),(712,802),(674,802),(675,797),(787,802),(798,805),(802,805),(800,801),(827,800),(842,804),(862,800),(738,800),(744,797),(764,802),(764,798),(689,795),(699,801),(708,794),(723,797),(719,792),(737,792),(752,794),(760,788),(777,794),(794,789),(802,790),(837,797),(839,792),(857,796),(865,792),(892,797),(865,786),(704,788),(702,780),(726,782),(723,779),(737,788),(737,782),(744,784),(747,784),(767,788),(774,783),(767,778),(758,776),(752,775),(786,783),(783,778),(808,786),(817,786),(819,779),(833,783),(840,784),(846,779),(881,782),(881,778),(714,781),(715,773),(727,770),(679,775),(680,770),(686,767),(667,769),(698,770),(782,768),(793,776),(792,770),(750,773),(814,773),(826,770),(833,775),(849,772),(848,766),(855,768),(875,770),(899,770),(681,757),(689,764),(694,757),(700,753),(695,747),(743,764),(750,765),(775,760),(770,754),(805,766),(810,762),(817,764),(829,766),(836,762),(802,759),(814,757),(790,761),(830,758),(844,757),(850,759),(862,761),(869,764),(873,757),(859,754),(855,748),(787,752),(800,750),(810,748),(821,748),(829,748),(896,753),(894,748),(721,746),(733,745),(754,750),(746,744),(765,747),(761,742),(775,740),(811,741),(821,742),(801,742),(840,747),(842,741),(848,735),(875,740),(883,738),(871,734),(884,734),(719,740),(701,736),(704,734),(729,735),(756,734),(801,735),(813,738),(857,732),(861,732),(832,733),(838,731),(676,734),(679,730),(685,730),(668,729),(694,724),(687,721),(738,733),(742,728),(790,729),(802,732),(819,727),(830,724),(839,726),(869,727),(888,726),(708,726),(728,726),(733,720),(744,720),(738,723),(749,726),(769,719),(782,721),(788,719),(802,717),(874,720),(681,714),(686,714),(715,714),(721,709),(727,707),(754,717),(756,713),(798,717),(789,713),(819,715),(836,714),(840,717),(846,716),(867,713),(874,715),(870,721),(854,709),(882,705),(820,709),(767,708),(761,708),(742,708),(710,705),(780,705),(699,702),(743,702),(746,703),(665,704),(689,701),(669,700),(679,698),(781,702),(844,700),(862,698),(812,698),(756,698),(706,695),(715,695),(726,696),(744,695),(788,696),(867,695),(811,692),(827,695),(800,691),(681,692),(763,692),(769,692),(848,691),(702,688),(726,690),(782,690),(858,690),(813,689),(664,686),(693,688),(774,688),(789,685),(827,685),(848,685),(854,685),(693,683),(718,683),(734,682),(746,682),(880,682),(736,681),(740,682),(767,680),(763,677),(758,676),(676,678),(688,678),(862,680),(826,677),(838,678),(855,678),(721,677),(792,677),(739,675),(902,677),(669,675),(690,674),(755,673),(762,674),(854,675),(707,674),(781,672),(700,670),(807,669),(814,669),(848,672),(859,669),(681,667),(694,666),(735,667),(752,666),(781,667),(789,667),(834,666),(896,667),(841,664),(805,664),(676,666)]

cluster_edge_high = [(844,931),(852,925),(864,929),(874,929),(879,936),(845,914),(853,913),(857,915),(843,905),(817,901),(810,897),(825,907),(822,897),(826,901),(849,900),(855,902),(860,904),(866,907),(872,904),(874,922),(879,926),(884,923),(869,916),(889,917),(881,916),(831,890),(829,885),(836,883),(843,886),(848,890),(821,878),(829,879),(834,872),(844,875),(845,880),(852,883),(858,880),(862,876),(852,876),(850,894),(855,895),(862,897),(869,896),(860,890),(867,888),(864,871),(870,876),(877,864),(879,857),(868,858),(860,846),(874,840),(875,836),(888,848),(893,851),(899,850),(907,851),(912,855),(915,859),(923,856),(917,851),(920,892),(932,882),(925,874),(919,884),(945,885),(934,892),(966,890),(981,894),(981,885),(980,877),(954,895),(959,901),(938,902),(941,897)]

# rows of the dense clusters: (x2, [x1, ...])
cluster_905 = [(864,[885,890,896,904]),(870,[878,884,890,896,902,908,914]),(876,[872,878,884,890,896,902,908,914]),(882,[872,878,884,890,896,902,908,914]),(888,[875,881,887,893,899,905,911]),(894,[880,886,892,898,904,910]),(900,[880,886,892,898,904,910,918]),(906,[886,892,898,904,910]),(912,[880,890,896,902,915,925,935]),(918,[885,893,899,908]),(924,[888]),(867,[881,893,899,907]),(873,[875,887,893,905,911]),(879,[869,881,893,899,911,917]),(885,[878,884,896,908,914]),(891,[883,889,901,907]),(897,[877,889,895,913]),(903,[883,895,901,907]),(909,[889,901,913])]
cluster_953 = [(998,[925,939,953,960,970,975,980,985,990,995,1000]),(992,[915,933,945,950,956,962,968,974,980,986,992,998]),(986,[908,914,922,932,945,952,958,964,970,976,982,988,994,1000]),(980,[905,918,925,940,948,955,962,968,974,980,986,992,998]),(974,[920,926,932,938,944,950,956,962,968,976,982,988,994,1000]),(968,[922,928,934,940,946,952,958,964,972,978,984,990,996]),(962,[925,930,936,942,948,958,966,972,980,986,994,1000]),(956,[915,921,927,933,945,951,960,966,972,978,986,992,998]),(950,[905,912,918,924,930,936,942,948,962,968,974,980,990,996]),(944,[900,908,914,920,926,932,938,944,950,958,964,970,978,985,992,1000]),(938,[895,904,910,916,922,928,934,940,946,952,958,965,972,982,988,994,1000]),(932,[888,906,912,918,924,930,936,942,948,954,960,966,972,980,994,998]),(926,[905,911,917,923,929,935,941,947,953,959,965,971,977,985,992]),(920,[900,906,912,918,924,930,936,942,948,954,960,966,975,985]),(914,[905,911,917,928,934,940,946,952,958,964,970,980]),(908,[905,912,930,936,942,948,954,960,966,972]),(902,[918,926,942,948,954,960,970,975]),(896,[935,945,955,968]),(995,[948,963,972,983,993]),(989,[927,939,948,959,967,979,991,997]),(983,[911,928,943,951,965,971,985,995]),(977,[923,935,947,959,971,983,997]),(971,[925,937,949,961,975,987,993]),(965,[928,939,951,969,977,991]),(959,[923,935,947,963,975,989,997]),(953,[909,921,933,945,965,971,983,993]),(947,[905,917,929,941,955,967,981,996]),(941,[901,913,925,937,949,961,975,991]),(935,[909,921,933,945,957,969,985,997]),(929,[908,920,932,944,956,968,979,990]),(923,[903,915,927,939,951,963,973,988]),(917,[908,920,931,943,955,967,978]),(911,[908,933,945,957,969,975]),(905,[933,945,951,963,971])]
cluster_095 = [(95,[62,68,74,80]),(88,[65,72,78,84,99,105,110,115]),(82,[60,70,76,82,88,97,103,109]),(76,[56,63,70,76,82,88,93,100,106]),(70,[60,67,74,80,86,92,99,105]),(64,[63,70,76,82,88,98,104]),(58,[66,72,78,84,90]),(52,[72,78,85,90]),(46,[75,82,88]),(85,[68,75,81,93,101,107]),(79,[67,73,85,91,97,103]),(73,[64,70,77,83,89,102]),(67,[66,73,79,85,91,101]),(61,[69,75,81,87])]
cluster_045 = [(2,[2,9,15,22,30,38,44,50,58,62]),(8,[0,6,12,18,24,37,43,50,55]),(14,[0,5,10,16,22,28,40,46,52]),(20,[3,9,15,21,27,33,39,45,52]),(26,[0,6,12,18,24,30,36,42,50,56]),(32,[1,7,13,19,25,31,37,43,49,55]),(38,[0,5,10,16,22,28,34,40,46,52,60,68]),(44,[0,6,12,18,24,30,36,42,52,58,66]),(50,[0,7,14,25,31,37,43,49,55,62]),(55,[0,5,12,15,33,39,45,51]),(60,[0,15,20,35,40,45]),(5,[5,12,19,27,34,41,47,53]),(11,[3,9,15,21,34,40,47,53]),(17,[6,12,19,25,31,36,43,49]),(23,[1,7,13,19,25,31,37,43,48,54]),(29,[4,10,16,22,28,34,40,46,53]),(35,[4,8,14,20,26,34,40,46,52]),(41,[3,8,14,20,26,32,38,44,50,56,64]),(47,[3,9,15,21,28,34,40,46,55,62]),(53,[3,10,19,28,35,41,47,53])]

centre_x1 = [0.046,0.095,0.142,0.190,0.238,0.285,0.333,0.379,0.427,0.476,0.522,0.571,0.618,0.666,0.713,0.761,0.807,0.856,0.905,0.953]
centre_x2 = [0.047,0.095,0.573,0.428,0.286,0.239,0.144,0.193,0.335,0.809,0.478,0.666,0.381,0.525,0.762,0.620,0.715,0.858,0.905,0.953]

tick_values = [0.0,0.1,0.2,0.3,0.4,0.5,0.6,0.7,0.8,0.9,1.0]
tick_labels = ["0.0","0.1","0.2","0.3","0.4","0.5","0.6","0.7","0.8","0.9","1.0"]

pairs = []
for block in (upper_left, middle_left, lower_left, upper_mid, center, lower_mid, lower_right, middle_right, upper_right, cluster_edge_high):
    pairs.extend(block)
for rows in (cluster_905, cluster_953, cluster_095, cluster_045):
    for yv, xs in rows:
        pairs.extend((xv, yv) for xv in xs)
x1 = [p[0] / 1000 for p in pairs]
x2 = [p[1] / 1000 for p in pairs]

# the page body has an 8 px margin, so the figure sits 8 px in from the window edge
W, H = 1665, 1692
L, R, T, B = 198, 1604, 88, 1495
FR_L, FR_R, FR_T, FR_B = 27, 1657, 35, 1662
FONT = "Liberation Sans, Arial, sans-serif"
TEXT = "#404040"

fig = go.Figure()
fig.add_trace(go.Scatter(x=x1, y=x2, mode="markers", cliponaxis=False, showlegend=False,
                         marker=dict(symbol="circle", size=9.5, color="#000080", line=dict(width=0))))
fig.add_trace(go.Scatter(x=centre_x1, y=centre_x2, mode="markers", cliponaxis=False, showlegend=False,
                         marker=dict(symbol="circle", size=19, color="#CCFFFF", line=dict(width=3, color="#A01020"))))

axis = dict(range=[0, 1], tickmode="array", tickvals=tick_values, ticktext=tick_labels,
            ticks="outside", ticklen=12, tickwidth=2, tickcolor="#000000",
            showgrid=True, gridcolor="#000000", gridwidth=2, zeroline=False,
            showline=True, linecolor="#000000", linewidth=2,
            tickfont=dict(family=FONT, size=36, color=TEXT))
fig.update_xaxes(**axis, ticklabelstandoff=8,
                 title=dict(text="x1", font=dict(family=FONT, size=35, color=TEXT), standoff=27))
fig.update_yaxes(**axis, ticklabelstandoff=10,
                 title=dict(text="x2", font=dict(family=FONT, size=35, color=TEXT), standoff=18))

fig.update_layout(
    width=W, height=H, autosize=False,
    margin=dict(l=L, r=W - R, t=T, b=H - B, pad=0),
    paper_bgcolor="#FFFFFF", plot_bgcolor="#C0C0C0",
    shapes=[
        dict(type="rect", xref="paper", yref="paper", layer="below",
             x0=(FR_L - L) / (R - L), x1=(FR_R - L) / (R - L),
             y0=(B - FR_B) / (B - T), y1=(B - FR_T) / (B - T),
             line=dict(color="#000000", width=2.5), fillcolor="rgba(0,0,0,0)"),
        dict(type="line", xref="x", yref="y", x0=0, x1=1, y0=1, y1=1, layer="below",
             line=dict(color="#808080", width=2)),
        dict(type="line", xref="x", yref="y", x0=1, x1=1, y0=0, y1=1, layer="below",
             line=dict(color="#808080", width=2)),
    ],
)
fig.write_html("out.html")
